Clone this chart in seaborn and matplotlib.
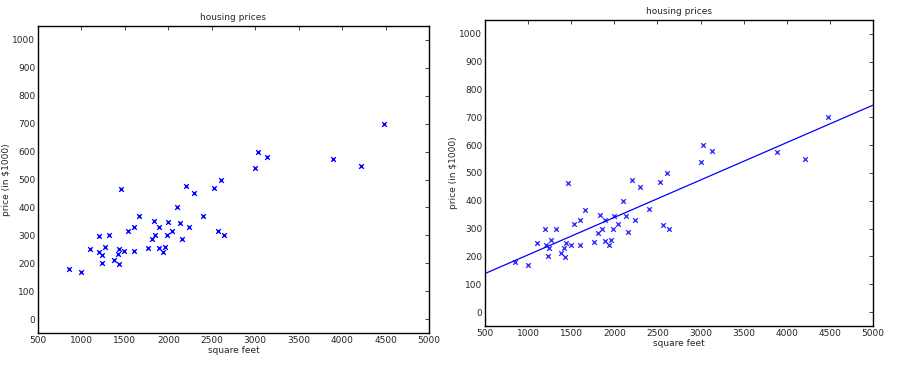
import numpy as np
import pandas as pd
import matplotlib
matplotlib.use("Agg")
import matplotlib.pyplot as plt
import seaborn as sns

# ev verisi: metrekare (square feet) ve fiyat (bin $)
square_feet = [2104, 1600, 2400, 1416, 3000, 1985, 1534, 1427, 1380, 1494,
               1940, 2000, 1890, 4478, 1268, 2300, 1320, 1236, 2609, 3031,
               1767, 1888, 1604, 1962, 3890, 1100, 1458, 2526, 2200, 2637,
               1839, 1000, 2040, 3137, 1811, 1437, 1239, 2132, 4215, 2162,
               1664, 2238, 2567, 1200, 852, 1852, 1203]
price = [399.9, 329.9, 369.0, 232.0, 539.9, 299.9, 314.9, 199.0, 212.0, 242.5,
         240.0, 347.0, 330.0, 699.9, 259.9, 449.9, 299.9, 199.9, 500.0, 599.0,
         252.9, 255.0, 242.9, 259.9, 573.9, 249.9, 464.5, 469.0, 475.0, 299.9,
         349.9, 169.9, 314.9, 579.9, 285.9, 249.9, 229.9, 345.0, 549.0, 287.0,
         368.5, 329.9, 314.0, 299.0, 179.9, 299.9, 239.5]

df = pd.DataFrame({"sqft": square_feet, "price": price})

sns.set_style("white")
plt.rcParams["font.family"] = ["DejaVu Sans"]

fig = plt.figure(figsize=(9.07, 3.69), dpi=100)
ax1 = fig.add_axes([38/907, 1-333/369, 391/907, 307/369])
ax2 = fig.add_axes([485/907, 1-326/369, 388/907, 306/369])

# sol grafik: sadece noktalar
sns.scatterplot(x="sqft", y="price", data=df, ax=ax1, marker="x", color="blue",
                s=11, linewidth=1.0)

# sağ grafik: noktalar + doğrusal regresyon (eksen sınırları önce ayarlandı)
ax2.set_xlim(500, 5000)
sns.regplot(x="sqft", y="price", data=df, ax=ax2, ci=None, truncate=False,
            marker="x", color="blue",
            scatter_kws={"s": 11, "linewidths": 1.0},
            line_kws={"linewidth": 0.9})

for ax in (ax1, ax2):
    ax.set_xlim(500, 5000)
    ax.set_ylim(-50, 1050)
    ax.set_xticks(range(500, 5001, 500))
    ax.set_yticks(range(0, 1001, 100))
    ax.tick_params(direction="in", top=True, right=True, length=3, width=0.6,
                   labelsize=6.5, pad=2)
    for s in ax.spines.values():
        s.set_linewidth(1.0)
        s.set_color("black")
    ax.set_title("housing prices", fontsize=6.5, pad=4)
    ax.set_xlabel("square feet", fontsize=6.5, labelpad=1)
    ax.set_ylabel("price (in \\$1000)", fontsize=6.5, labelpad=1)

fig.savefig("out.png", dpi=100)
